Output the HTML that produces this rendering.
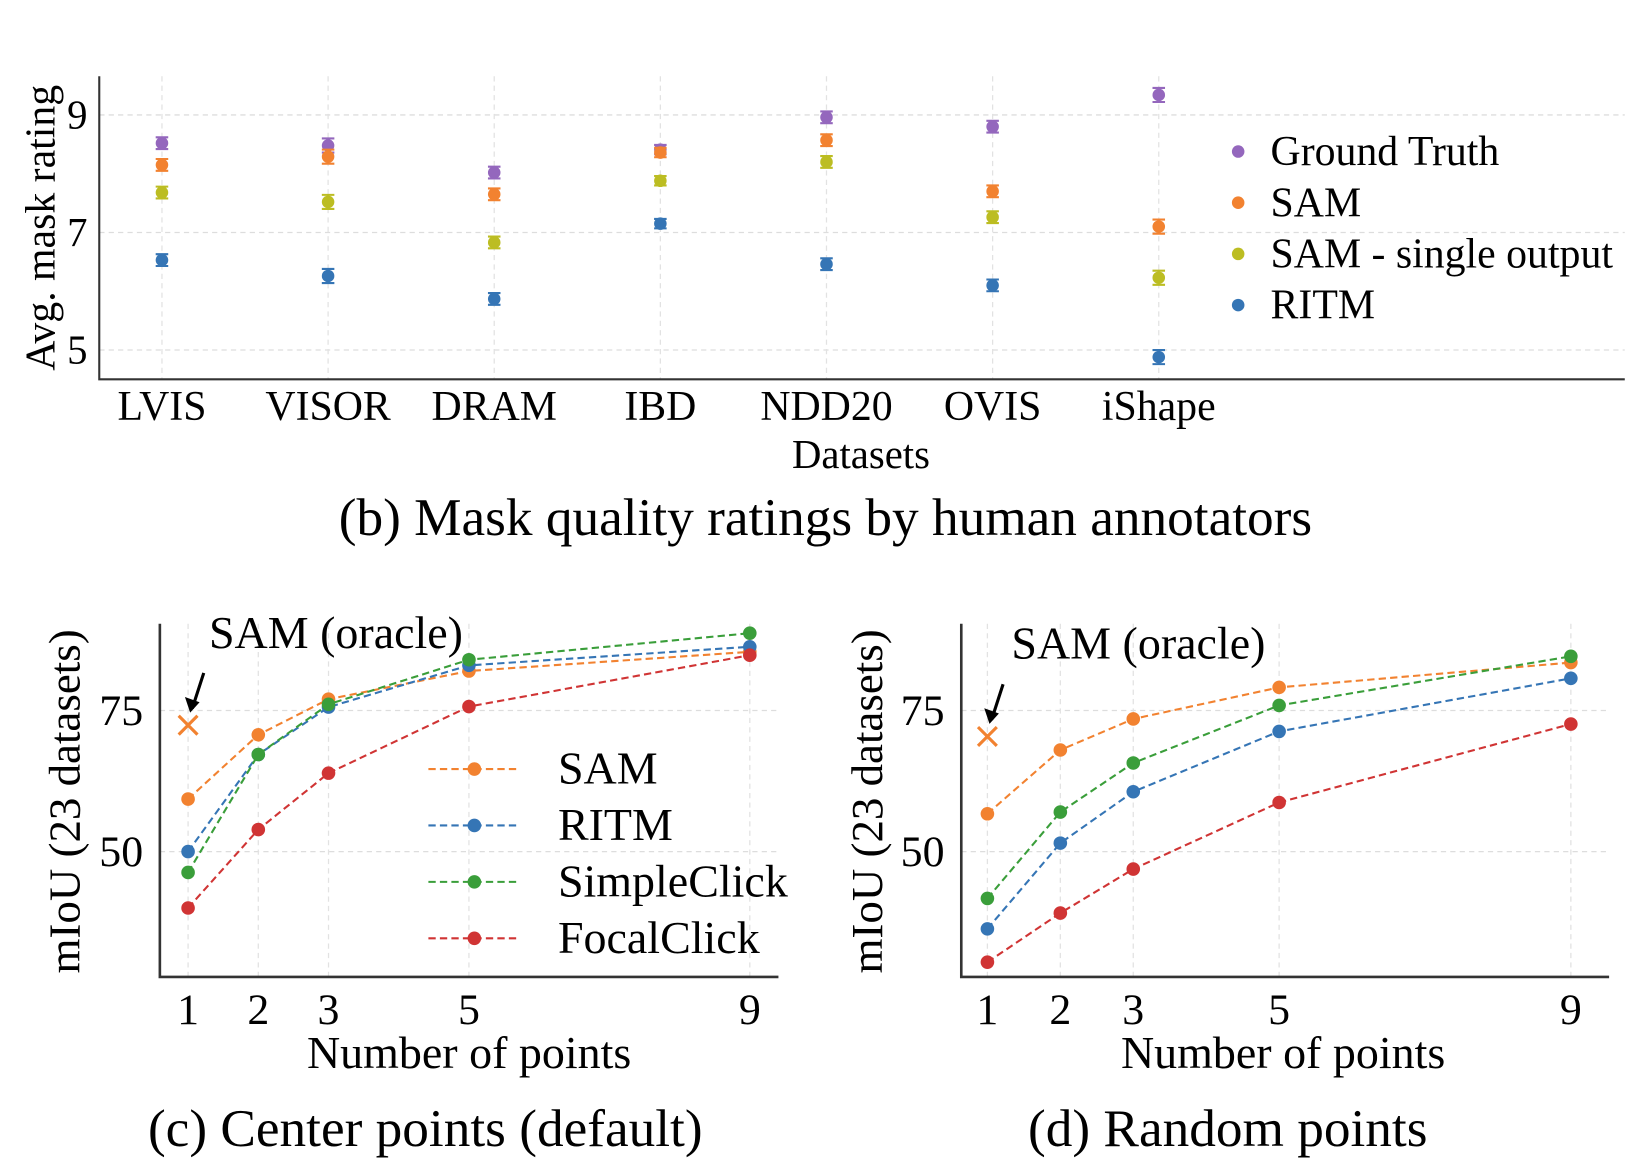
<!DOCTYPE html>
<html><head><meta charset="utf-8"><style>
html,body{margin:0;padding:0;background:#fff;}
svg{display:block;font-family:"Liberation Serif",serif;}
</style></head><body>
<svg id="fig" width="1630" height="1176" viewBox="0 0 1560 1125.5" preserveAspectRatio="none" xmlns="http://www.w3.org/2000/svg">
<g id="gb"></g>
<g id="gc"></g>
<g id="gd"></g>
</svg>
<script>
const datasets=["LVIS","VISOR","DRAM","IBD","NDD20","OVIS","iShape"];
const ratingGT=[8.52,8.48,8.02,8.41,8.96,8.80,9.34];
const ratingSAM=[8.15,8.29,7.65,8.36,8.57,7.70,7.10];
const ratingSingle=[7.68,7.52,6.83,7.88,8.20,7.26,6.23];
const ratingRITM=[6.53,6.26,5.87,7.15,6.46,6.10,4.88];
const ratingErr=[0.1,0.12,0.1,0.08,0.1,0.1,0.12];
const ratingTicks=[5,7,9];
const numPoints=[1,2,3,5,9];
const cSAM=[59.3,70.7,77,82,85.4];
const cRITM=[50,67.2,75.6,83,86.3];
const cSimple=[46.3,67.2,76.1,84,88.7];
const cFocal=[40,53.9,63.9,75.7,84.8];
const cOracle=72.4;
const dSAM=[56.7,68,73.5,79.1,83.5];
const dRITM=[36.3,51.5,60.6,71.3,80.7];
const dSimple=[41.7,57,65.7,75.9,84.6];
const dFocal=[30.4,39.1,46.9,58.7,72.6];
const dOracle=70.4;
const miouTicks=[50,75];

const NS="http://www.w3.org/2000/svg";
const COL={gt:"#9467bd",sam:"#f28230",single:"#bcbd22",ritm:"#3575b5",simple:"#3a9e3a",focal:"#d03434"};
function mk(p,t,a,txt){const e=document.createElementNS(NS,t);for(const k in a)e.setAttribute(k,a[k]);if(txt!==undefined)e.textContent=txt;p.appendChild(e);return e;}

// ---- chart b ----
const gb=document.getElementById('gb');
const bx=i=>155+i*159, by=v=>335-(v-5)*56.25;
ratingTicks.forEach(t=>{const l=mk(gb,'line',{x1:95,x2:1555,y1:by(t),y2:by(t),stroke:'#ddd','stroke-dasharray':'5,4','stroke-width':1.2});

const tx=mk(gb,'text',{x:74,y:by(t)+13,'font-size':39,'text-anchor':'middle'},String(t));
});
datasets.forEach((d,i)=>{const l=mk(gb,'line',{x1:bx(i),x2:bx(i),y1:73,y2:363,stroke:'#e2e2e2','stroke-dasharray':'5,4','stroke-width':1.2});

const tx=mk(gb,'text',{x:bx(i),y:402,'font-size':40,'text-anchor':'middle'},d);
});
[[ratingGT,COL.gt,'ground-truth'],[ratingSAM,COL.sam,'sam'],[ratingSingle,COL.single,'sam-single'],[ratingRITM,COL.ritm,'ritm']].forEach(([arr,c,n])=>{
arr.forEach((v,i)=>{const e=ratingErr[i];const x=bx(i);
mk(gb,'path',{d:`M${x} ${by(v+e)}V${by(v-e)}M${x-6} ${by(v+e)}h12M${x-6} ${by(v-e)}h12`,stroke:c,'stroke-width':2,fill:'none'});
const p=mk(gb,'circle',{cx:x,cy:by(v),r:6,fill:c});
});});
mk(gb,'path',{d:'M95 73V363H1555',stroke:'#333','stroke-width':2,fill:'none'});
let t=mk(gb,'text',{x:824,y:448,'font-size':39,'text-anchor':'middle'},'Datasets');
t=mk(gb,'text',{x:0,y:0,'font-size':40,'text-anchor':'middle',transform:'translate(52,218) rotate(-90)'},'Avg. mask rating');
[['Ground Truth',COL.gt],['SAM',COL.sam],['SAM - single output',COL.single],['RITM',COL.ritm]].forEach(([n,c],i)=>{
const y=145+i*49;mk(gb,'circle',{cx:1185,cy:y,r:6,fill:c});
const tx=mk(gb,'text',{x:1216,y:y+13,'font-size':40},n);});
t=mk(gb,'text',{x:790,y:512,'font-size':51,'text-anchor':'middle'},'(b) Mask quality ratings by human annotators');

// ---- line charts ----
function lineChart(g,o){
const xs=n=>o.x0+(n-1)*o.ux, ys=v=>815-(v-50)*5.4;
miouTicks.forEach(tk=>{mk(g,'line',{x1:o.ax,x2:o.ax2,y1:ys(tk),y2:ys(tk),stroke:'#ddd','stroke-dasharray':'5,4','stroke-width':1.2});
const tx=mk(g,'text',{x:o.ax-37,y:ys(tk)+14,'font-size':42,'text-anchor':'middle'},String(tk));
});
numPoints.forEach(n=>{mk(g,'line',{x1:xs(n),x2:xs(n),y1:597,y2:935,stroke:'#e2e2e2','stroke-dasharray':'5,4','stroke-width':1.2});
const tx=mk(g,'text',{x:xs(n),y:980,'font-size':42,'text-anchor':'middle'},String(n));
});
o.series.forEach(([arr,c,n])=>{
const pl=mk(g,'polyline',{points:arr.map((v,i)=>xs(numPoints[i])+','+ys(v)).join(' '),fill:'none',stroke:c,'stroke-width':2,'stroke-dasharray':'7,4'});

arr.forEach((v,i)=>{const p=mk(g,'circle',{cx:xs(numPoints[i]),cy:ys(v),r:6.5,fill:c});
});});
const ox=xs(1),oy=ys(o.oracle);
const m=mk(g,'path',{d:`M${ox-9} ${oy-9}L${ox+9} ${oy+9}M${ox-9} ${oy+9}L${ox+9} ${oy-9}`,stroke:COL.sam,'stroke-width':3});

mk(g,'path',{d:`M${ox+15} ${oy-50}L${ox+4} ${oy-16}`,stroke:'#000','stroke-width':3});
mk(g,'path',{d:`M${ox+2} ${oy-12}L${ox-3} ${oy-27}L${ox+11} ${oy-22}Z`,fill:'#000'});
let tx=mk(g,'text',{x:o.otx,y:o.oty,'font-size':44},'SAM (oracle)');
mk(g,'path',{d:`M${o.ax} 597V935H${o.ax2}`,stroke:'#333','stroke-width':2.5,fill:'none'});
tx=mk(g,'text',{x:o.xtc,y:1022,'font-size':44,'text-anchor':'middle'},'Number of points');
tx=mk(g,'text',{x:0,y:0,'font-size':43,'text-anchor':'middle',transform:`translate(${o.ytx},767) rotate(-90)`},'mIoU (23 datasets)');
tx=mk(g,'text',{x:o.capx,y:1097,'font-size':51,'text-anchor':'middle'},o.cap);
}
const series=(a,b,c,d)=>[[a,COL.sam,'sam'],[b,COL.ritm,'ritm'],[c,COL.simple,'simpleclick'],[d,COL.focal,'focalclick']];
const gc=document.getElementById('gc');
lineChart(gc,{x0:180,ux:67.2,ax:153,ax2:745,series:series(cSAM,cRITM,cSimple,cFocal),oracle:cOracle,otx:200,oty:620,xtc:449,ytx:76,capx:407,cap:'(c) Center points (default)'});
[['SAM',COL.sam],['RITM',COL.ritm],['SimpleClick',COL.simple],['FocalClick',COL.focal]].forEach(([n,c],i)=>{
const y=736+i*54;mk(gc,'line',{x1:410,x2:498,y1:y,y2:y,stroke:c,'stroke-width':2,'stroke-dasharray':'7,4'});
mk(gc,'circle',{cx:454,cy:y,r:6.5,fill:c});
const tx=mk(gc,'text',{x:534,y:y+14,'font-size':44},n);});
const gd=document.getElementById('gd');
lineChart(gd,{x0:945,ux:69.8,ax:920,ax2:1540,series:series(dSAM,dRITM,dSimple,dFocal),oracle:dOracle,otx:968,oty:630,xtc:1228,ytx:844,capx:1175,cap:'(d) Random points'});
</script>
</body></html>
